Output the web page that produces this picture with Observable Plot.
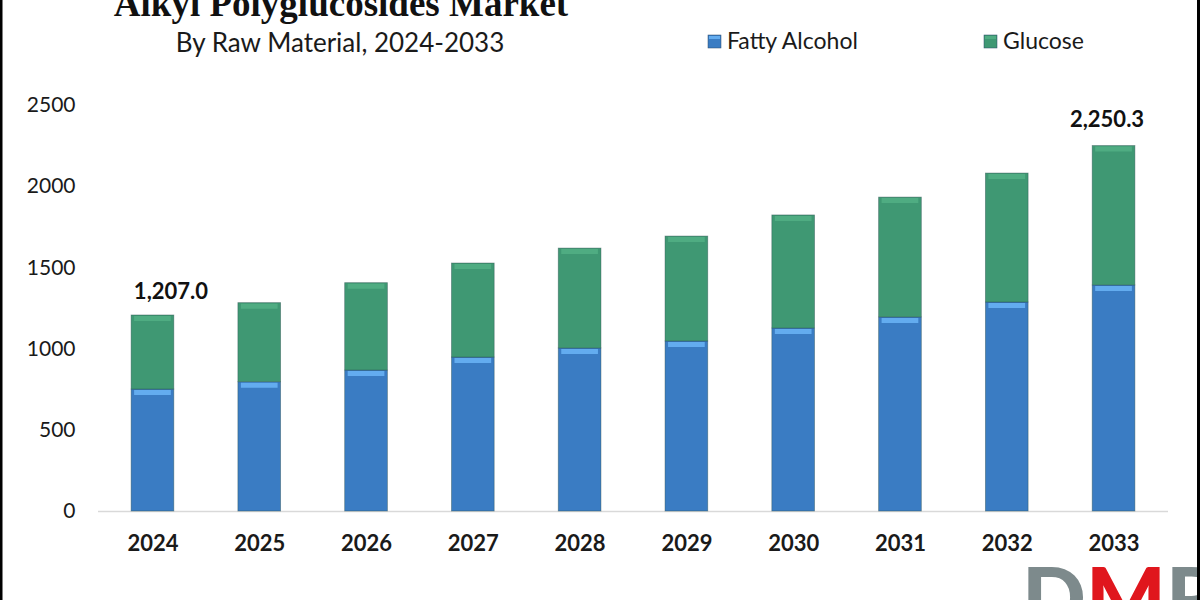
<!DOCTYPE html>
<html><head><meta charset="utf-8">
<script src="https://cdn.jsdelivr.net/npm/d3@7"></script>
<script src="https://cdn.jsdelivr.net/npm/@observablehq/plot@0.6"></script>
<style>
html,body{margin:0;padding:0;background:#fff;}
#wrap{position:relative;width:1200px;height:600px;overflow:hidden;background:#fff;}
#wrap svg{position:absolute;left:0;top:0;}
</style></head>
<body><div id="wrap"></div>
<script>
// ---- data ----
const years = ["2024","2025","2026","2027","2028","2029","2030","2031","2032","2033"];
const fattyAlcohol = [751, 796, 868, 948, 1004, 1047, 1127, 1195, 1287, 1392];
const glucose = [456, 487, 538, 579, 615, 646, 696, 738, 794, 858.3];
const seriesNames = ["Fatty Alcohol", "Glucose"];
const seriesColors = ["#3a7cc3", "#3f9873"];
const seriesHighlights = ["#63acef", "#4fac82"];
const labelYears = ["2024", "2033"];
const labelValues = [1207.0, 2250.3];
const yTicks = [0, 500, 1000, 1500, 2000, 2500];
const titleText = "Alkyl Polyglucosides Market";
const subtitleText = "By Raw Material, 2024-2033";

// ---- tables built from arrays ----
const rows = [];
years.forEach((yr, i) => {
  rows.push({year: yr, series: seriesNames[0], value: fattyAlcohol[i]});
  rows.push({year: yr, series: seriesNames[1], value: glucose[i]});
});
const labels = labelYears.map((yr, i) => ({year: yr, total: labelValues[i]}));
const fmt = d3.format(",.1f");

const colorScale = {domain: seriesNames, range: seriesColors};
const hiMap = new Map(seriesNames.map((s, i) => [s, seriesHighlights[i]]));

const chart = Plot.plot({
  width: 1200,
  height: 600,
  marginTop: 105,
  marginBottom: 89,
  marginLeft: 98,
  marginRight: 32,
  style: {fontFamily: "Lato, 'Noto Sans', sans-serif", background: "transparent", color: "#1a1a1a"},
  x: {domain: years, paddingInner: 0.6, paddingOuter: 0.31, round: false, label: null},
  y: {domain: [0, 2500], label: null},
  color: colorScale,
  marks: [
    Plot.ruleY([0], {stroke: "#d9d9d9", strokeWidth: 1.5}),
    Plot.barY(rows, {x: "year", y: "value", fill: "series", stroke: "#2c505080", strokeWidth: 0.8}),
    Plot.tickY(rows, Plot.stackY2({x: "year", y: "value", stroke: d => hiMap.get(d.series), strokeWidth: 5, dy: 3, insetLeft: 3, insetRight: 3})),
    Plot.text(labels.slice(0, 1), {x: "year", y: "total", text: d => fmt(d.total), dy: -24, dx: 18, fontWeight: "bold", fontSize: 22, fill: "#111"}),
    Plot.text(labels.slice(1), {x: "year", y: "total", text: d => fmt(d.total), dy: -26, dx: -7, fontWeight: "bold", fontSize: 22, fill: "#111"}),
    Plot.axisY({ticks: yTicks, tickSize: 0, tickPadding: 23, fontSize: 21, label: null, tickFormat: d => String(d)}),
    Plot.axisX({tickSize: 0, tickPadding: 24, fontSize: 22, fontWeight: "bold", label: null})
  ]
});
const wrap = document.getElementById("wrap");
wrap.appendChild(chart);

// ---- overlay: titles, legend, logo, border ----
const ov = d3.select(wrap).append("svg")
  .attr("width", 1200).attr("height", 600)
  .style("pointer-events", "none");

ov.append("text").text(titleText)
  .attr("x", 341).attr("y", 16).attr("text-anchor", "middle")
  .attr("font-family", "'Liberation Serif', 'DejaVu Serif', serif")
  .attr("font-weight", "bold").attr("font-size", 37).attr("fill", "#111");

ov.append("text").text(subtitleText)
  .attr("x", 340).attr("y", 52).attr("text-anchor", "middle")
  .attr("font-family", "Lato, sans-serif").attr("font-size", 26).attr("fill", "#1a1a1a");

const legendX = [708, 984];
seriesNames.forEach((s, i) => {
  const g = ov.append("g").attr("transform", `translate(${legendX[i]},35)`);
  g.append("rect").attr("width", 13).attr("height", 13).attr("fill", seriesColors[i])
    .attr("stroke", "#2a4a6a").attr("stroke-width", 0.5);
  g.append("rect").attr("x", 1).attr("y", 1).attr("width", 11).attr("height", 3).attr("fill", seriesHighlights[i]);
  g.append("text").text(s).attr("x", 19).attr("y", 14)
    .attr("font-family", "Lato, sans-serif").attr("font-size", 23).attr("fill", "#1a1a1a");
});

const logo = ov.append("text").attr("x", 1022).attr("y", 628)
  .attr("font-family", "Lato, sans-serif").attr("font-weight", 900).attr("font-size", 84);
logo.append("tspan").text("D").attr("fill", "#7d8a8c");
logo.append("tspan").text("M").attr("fill", "#e0161d");
logo.append("tspan").text("R").attr("fill", "#7d8a8c");

ov.append("rect").attr("x", 0).attr("y", 0).attr("width", 2.5).attr("height", 600).attr("fill", "#000");
ov.append("rect").attr("x", 1197).attr("y", 0).attr("width", 3).attr("height", 600).attr("fill", "#000");
</script>
</body></html>
